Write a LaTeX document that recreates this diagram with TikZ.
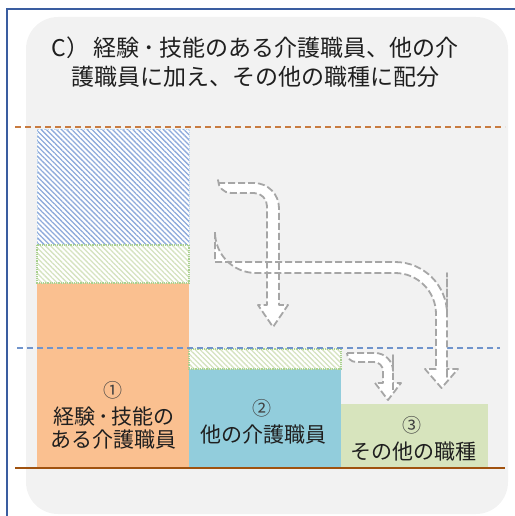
\documentclass[tikz,border=0pt]{standalone}
\usepackage{fontspec}
\setmainfont{Noto Sans CJK JP}
\usetikzlibrary{patterns.meta}
\definecolor{bgray}{HTML}{F2F2F2}
\definecolor{frameblue}{HTML}{3A5DA0}
\definecolor{orangebar}{HTML}{FAC090}
\definecolor{bluebar}{HTML}{92CDDC}
\definecolor{greenbar}{HTML}{D7E4BD}
\definecolor{brownline}{HTML}{A0520F}
\definecolor{orangedash}{HTML}{C97B3F}
\definecolor{bluedash}{HTML}{7094CC}
\definecolor{arrowgray}{HTML}{A6A6A6}
\definecolor{txt}{HTML}{1F1F1F}
\definecolor{hatchblue}{HTML}{8EAADB}
\definecolor{hatchgreen}{HTML}{D5E3C0}
\definecolor{dotgreen}{HTML}{A9D18E}
\definecolor{dotblue}{HTML}{BDD7EE}
\tikzset{
  titletext/.style={text=txt, font=\fontsize{23}{29}\selectfont, inner sep=0pt},
  lbltext/.style={text=txt, font=\fontsize{21}{24}\selectfont, inner sep=0pt},
  numtext/.style={text=txt!85, font=\fontsize{19}{22}\selectfont, inner sep=0pt},
  fatarrow/.style={fill=white, draw=arrowgray, line width=1.8pt, dash pattern=on 7pt off 3pt, line join=round},
  bluehatch/.style={pattern={Lines[angle=-45,distance=3.6pt,line width=1.3pt]}, pattern color=hatchblue},
  greenhatch/.style={pattern={Lines[angle=-45,distance=3.6pt,line width=1.3pt]}, pattern color=hatchgreen},
}
\begin{document}
\begin{tikzpicture}[x=1pt,y=-1pt]
\useasboundingbox (0,0) rectangle (514,516);
% frame
\draw[frameblue, line width=2.5pt] (7,518) -- (7,9) -- (516,9);
% gray panel
\fill[bgray, rounded corners=32pt] (26,17) rectangle (508,514);
% title
\node[titletext] (title1) at (255,48) {C）\hspace{4pt}経験\hspace{4pt}･\hspace{4pt}技能のある介護職員、他の介};
\node[titletext] (title2) at (255,77) {護職員に加え、その他の職種に配分};
% bars
\fill[orangebar] (37,283) rectangle (189,467);
\fill[bluebar] (189,369) rectangle (341,467);
\fill[greenbar] (341,404) rectangle (488,467);
% hatched areas
\fill[white] (37,129) rectangle (189,245);
\path[bluehatch] (37,129) rectangle (189,245);
\draw[dotblue, line width=1pt, densely dotted] (37,129) rectangle (189,245);
\fill[white] (37,245) rectangle (189,283);
\path[greenhatch] (37,245) rectangle (189,283);
\draw[dotgreen, line width=1.2pt, densely dotted] (37,245) rectangle (189,283);
\fill[white] (189,349) rectangle (341,369);
\path[greenhatch] (189,349) rectangle (341,369);
\draw[dotgreen, line width=1.2pt, densely dotted] (189,349) rectangle (341,369);
% reference lines
\draw[orangedash, line width=1.6pt, dash pattern=on 6pt off 4pt] (15,127) -- (505,127);
\draw[bluedash, line width=1.4pt, dash pattern=on 6pt off 4pt] (17,348) -- (500,348);
\draw[brownline, line width=2pt] (15,468) -- (505,468);
% arrows: fills first, then outlines
\def\arrowA{(218,183) [rounded corners=25pt] -- (279,183) -- (279,240) [sharp corners] -- (279,305) -- (288,305) -- (273,327) -- (258,305) -- (267,305) -- (267,240) [rounded corners=13pt] -- (267,193) -- (218,193) [sharp corners] -- cycle}
\def\arrowB{(215,262) [rounded corners=52pt] -- (447,262) -- (447,325) [sharp corners] -- (447,369) -- (458,369) -- (441.5,388) -- (425,369) -- (436,369) -- (436,325) [rounded corners=41pt] -- (436,273) -- (215,273) [sharp corners] -- cycle}
\def\arrowC{(347,353) [rounded corners=18pt] -- (393,353) -- (393,373) [sharp corners] -- (393,383) -- (401,383) -- (388,400) -- (375,383) -- (383,383) -- (383,373) [rounded corners=9pt] -- (383,362) -- (347,362) [sharp corners] -- cycle}
\fill[white] \arrowA;
\fill[white] \arrowB;
\fill[white] \arrowC;
\draw[fatarrow, fill=none] \arrowA;
\draw[fatarrow, fill=none] \arrowB;
\draw[fatarrow, fill=none] \arrowC;
% labels
\node[numtext] (n1) at (113,390) {①};
\node[lbltext] (l1a) at (114,417) {経験\hspace{3pt}･\hspace{3pt}技能の};
\node[lbltext] (l1b) at (113,440) {ある介護職員};
\node[numtext] (n2) at (262,408) {②};
\node[lbltext] (l2) at (263,435) {他の介護職員};
\node[numtext] (n3) at (412,425) {③};
\node[lbltext] (l3) at (413,452) {その他の職種};
\end{tikzpicture}
\end{document}
